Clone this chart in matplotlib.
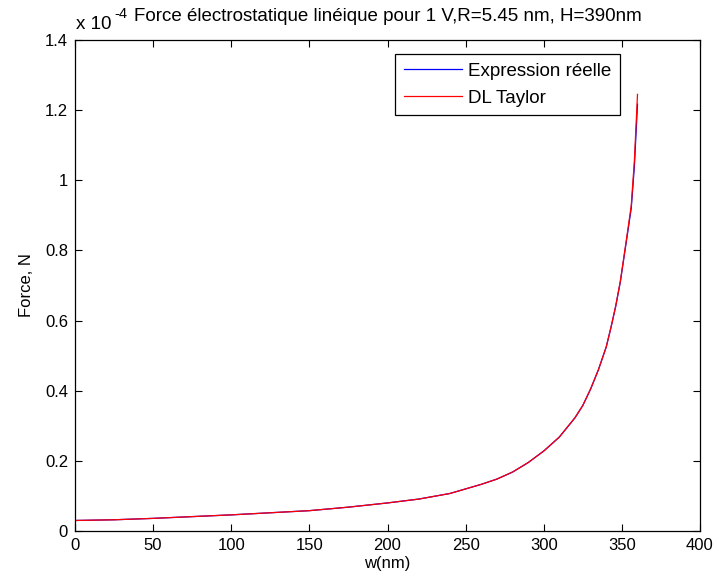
import matplotlib
matplotlib.use("Agg")
import matplotlib.pyplot as plt

plt.rcParams['font.family'] = ['Liberation Sans', 'DejaVu Sans']
plt.rcParams['font.size'] = 12

# largeur w (nm) et force (x 1e-4 N)
w_nm = [0, 25, 50, 75, 100, 125, 150, 175, 200, 220, 240, 250, 260, 270, 280,
        290, 300, 310, 320, 325, 330, 335, 340, 343, 346, 349, 352, 354, 356,
        358, 360]
force_reelle = [0.030, 0.032, 0.036, 0.041, 0.046, 0.052, 0.058, 0.068, 0.080,
                0.091, 0.107, 0.120, 0.133, 0.148, 0.168, 0.195, 0.228, 0.268,
                0.323, 0.358, 0.405, 0.460, 0.525, 0.580, 0.640, 0.710, 0.800,
                0.860, 0.920, 1.040, 1.217]
force_taylor = [0.030, 0.032, 0.036, 0.041, 0.046, 0.052, 0.058, 0.068, 0.080,
                0.091, 0.107, 0.120, 0.133, 0.148, 0.168, 0.195, 0.228, 0.268,
                0.323, 0.358, 0.405, 0.460, 0.525, 0.580, 0.640, 0.712, 0.803,
                0.865, 0.928, 1.055, 1.245]

fig = plt.figure(figsize=(7.19, 5.84), dpi=100)
ax = fig.add_axes([75/719, 53/584, 625/719, 491/584])

ax.plot(w_nm, force_reelle, color='blue', lw=0.9, label='Expression réelle')
ax.plot(w_nm, force_taylor, color='red', lw=0.9, label='DL Taylor')

ax.set_xlim(0, 400)
ax.set_ylim(0, 1.4)
ax.set_xticks(range(0, 401, 50))
ax.set_yticks([0, 0.2, 0.4, 0.6, 0.8, 1, 1.2, 1.4])
ax.set_yticklabels(['0', '0.2', '0.4', '0.6', '0.8', '1', '1.2', '1.4'])
ax.tick_params(direction='in', length=5, width=0.8, top=True, right=True, pad=5)
for s in ax.spines.values():
    s.set_linewidth(0.9)

ax.set_xlabel('w(nm)', labelpad=2)
ax.set_ylabel('Force, N', labelpad=8)

# titre et facteur d'echelle facon matlab
fig.text(76/719, 1 - 29/584, 'x 10', ha='left', va='baseline', fontsize=13.5)
fig.text(114/719, 1 - 18/584, '-4', ha='left', va='baseline', fontsize=10.5)
ax.set_title('Force électrostatique linéique pour 1 V,R=5.45 nm, H=390nm',
             pad=14, fontsize=13.5)

leg = ax.legend(loc='upper right', bbox_to_anchor=((620-75)/625, (531-54)/491),
                borderaxespad=0, fancybox=False, framealpha=1, edgecolor='black',
                handlelength=3.1, handletextpad=0.35, labelspacing=0.55,
                borderpad=0.45, fontsize=13.5)
leg.get_frame().set_linewidth(0.9)

fig.savefig('out.png', dpi=100)
